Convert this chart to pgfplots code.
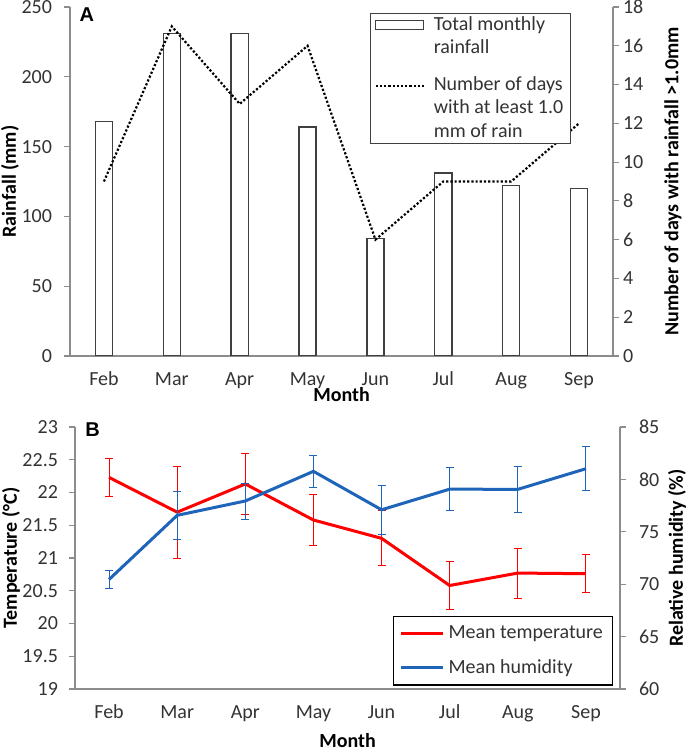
\documentclass[border=0pt]{standalone}
\usepackage{fontspec}
\setmainfont{Carlito}
\newfontfamily\arialf{Liberation Sans}
\usepackage{pgfplots}
\pgfplotsset{compat=1.18}
\definecolor{axgray}{HTML}{8C8C8C}
\definecolor{tickc}{HTML}{333333}
\definecolor{tred}{HTML}{FF0000}
\definecolor{hblue}{HTML}{1E64B9}
\definecolor{bared}{HTML}{404040}
\pgfplotsset{
  base/.style={
    scale only axis,
    xmin=-0.5, xmax=7.5,
    xtick={0,...,7},
    xticklabels={Feb,Mar,Apr,May,Jun,Jul,Aug,Sep},
    axis line style={-, draw=axgray, line width=0.6pt},
    tick align=outside,
    major tick length=3pt,
    tick style={draw=axgray, line width=0.6pt},
    xtick style={draw=none},
    ticklabel style={font=\fontsize{10}{12}\selectfont, text=tickc},
    /pgf/number format/assume math mode=true,
    label style={font=\bfseries\fontsize{10}{12}\selectfont},
  },
  panelA/.style={base, at={(35pt,196.5pt)}, anchor=south west, width=271.5pt, height=174.5pt},
  panelB/.style={base, at={(37.5pt,30pt)}, anchor=south west, width=272.5pt, height=131pt},
  legA/.style={legend image code/.code={%
      \path[draw=none, fill=none] (0pt,-11.75pt) -- (0pt,11.75pt);
      \draw[##1] (0pt,11.2pt) -- (24pt,11.2pt);}},
  legB/.style={legend image code/.code={\draw[##1] (0pt,0pt) -- (21pt,0pt);}},
  legBar/.style={legend image code/.code={%
      \path[draw=none, fill=none] (0pt,-8.5pt) -- (0pt,8.5pt);
      \draw[fill=white, draw=bared, line width=0.6pt, solid] (0pt,3.4pt) rectangle (24pt,7.9pt);}},
}
\begin{document}
\begin{tikzpicture}
\useasboundingbox (0,0) rectangle (342.5pt,374.5pt);
% ---------- Panel A: rainfall bars ----------
\begin{axis}[panelA,
  ymin=0, ymax=250, ytick={0,50,...,250},
  axis x line*=bottom, axis y line*=left,
  xticklabel style={anchor=base, yshift=-12pt},
  yticklabel style={xshift=-2.5pt},
  xlabel={Month},
  xlabel style={at={(axis description cs:0.5,0)}, anchor=base, yshift=-23pt},
  ylabel={Rainfall (mm)},
  ylabel style={at={(axis description cs:-0.1105,0.5)}, anchor=center},
]
\addplot[ybar, bar width=8.6pt, fill=white, draw=bared, line width=0.7pt]
  coordinates {(0,168) (1,231) (2,231) (3,164) (4,84) (5,131) (6,122) (7,120)};
\node[font=\arialf\bfseries\fontsize{10}{12}\selectfont] at (axis description cs:0.031,0.977) {A};
\end{axis}
\begin{axis}[panelA,
  ymin=0, ymax=18, ytick={0,2,...,18},
  axis x line=none, axis y line*=right,
  yticklabel style={xshift=-1.5pt},
  ylabel={Number of days with rainfall >1.0mm},
  ylabel style={at={(axis description cs:1.1105,0.5)}, anchor=center},
  legend style={at={(axis description cs:0.5525,0.984)}, anchor=north west,
    draw=bared, line width=0.6pt, fill=white,
    font=\fontsize{10}{11.75}\selectfont, text=tickc,
    nodes={align=left, inner sep=1.5pt},
    /tikz/every odd column/.append style={column sep=3pt},
    row sep=7pt, inner xsep=2pt, inner ysep=0pt},
  legend cell align=left,
]
\addlegendimage{legBar}
\addlegendentry{Total monthly\\rainfall}
\addplot[black, line width=1.1pt, dash pattern=on 1.1pt off 1.0pt, legA]
  coordinates {(0,9) (1,17) (2,13) (3,16) (4,6) (5,9) (6,9) (7,12)};
\addlegendentry{Number of days\\with at least 1.0\\mm of rain}
\end{axis}
% ---------- Panel B: temperature and humidity ----------
\begin{axis}[panelB, clip=false,
  ymin=19, ymax=23, ytick={19,19.5,...,23},
  axis x line*=bottom, axis y line*=left,
  xticklabel style={anchor=base, yshift=-12pt},
  yticklabel style={xshift=-2pt},
  xlabel={Month},
  xlabel style={at={(axis description cs:0.5,0)}, anchor=base, yshift=-29pt},
  ylabel={Temperature (°C)},
  ylabel style={at={(axis description cs:-0.1174,0.5)}, anchor=center},
]
\addplot[tred, line width=1.5pt,
  error bars/.cd, y dir=both, y explicit,
  error bar style={line width=0.45pt, tred},
  error mark options={rotate=90, mark size=2pt, line width=0.45pt, tred}]
  coordinates {
  (0,22.23) +- (0,0.29)
  (1,21.70) +- (0,0.70)
  (2,22.13) +- (0,0.47)
  (3,21.58) +- (0,0.39)
  (4,21.30) +- (0,0.42)
  (5,20.58) +- (0,0.37)
  (6,20.77) +- (0,0.38)
  (7,20.76) +- (0,0.29)};
\node[font=\arialf\bfseries\fontsize{10}{12}\selectfont] at (axis description cs:0.0325,0.99) {B};
\end{axis}
\begin{axis}[panelB,
  ymin=60, ymax=85, ytick={60,65,...,85},
  axis x line=none, axis y line*=right,
  yticklabel style={xshift=3pt},
  ylabel={Relative humidity (\%)},
  ylabel style={at={(axis description cs:1.1046,0.5)}, anchor=center},
  legend style={at={(axis description cs:0.988,0.0126)}, anchor=south east,
    draw=black, line width=0.6pt, fill=white,
    font=\fontsize{10}{12}\selectfont, text=tickc,
    row sep=5pt, inner xsep=3pt, inner ysep=2.5pt},
  legend cell align=left,
  legB,
]
\addlegendimage{tred, line width=1.5pt}
\addlegendentry{Mean temperature}
\addplot[hblue, line width=1.5pt,
  error bars/.cd, y dir=both, y explicit,
  error bar style={line width=0.45pt, hblue},
  error mark options={rotate=90, mark size=2pt, line width=0.45pt, hblue}]
  coordinates {
  (0,70.45) +- (0,0.88)
  (1,76.57) +- (0,2.32)
  (2,77.94) +- (0,1.72)
  (3,80.77) +- (0,1.51)
  (4,77.10) +- (0,2.36)
  (5,79.07) +- (0,2.05)
  (6,79.05) +- (0,2.23)
  (7,81.02) +- (0,2.12)};
\addlegendentry{Mean humidity}
\end{axis}
\end{tikzpicture}
\end{document}
